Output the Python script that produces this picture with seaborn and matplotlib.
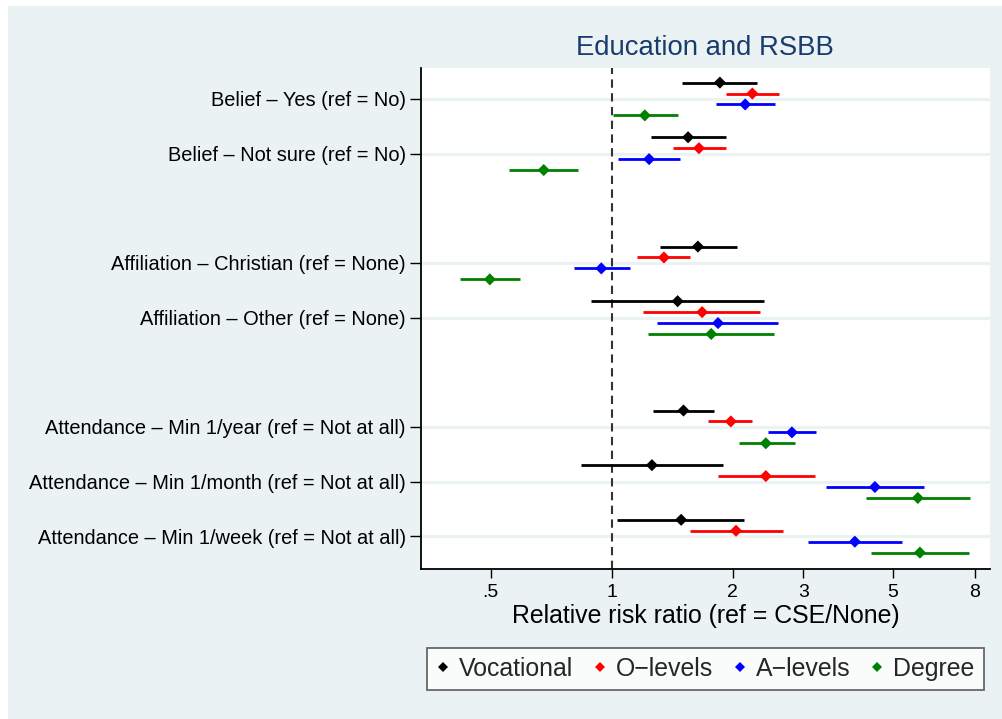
import numpy as np
import pandas as pd
import seaborn as sns
import matplotlib
matplotlib.use("Agg")
import matplotlib.pyplot as plt
from matplotlib.patches import Rectangle
from matplotlib.lines import Line2D

# Terms (rows of the coefficient plot)
terms = [
    "Belief \u2013 Yes (ref = No)",
    "Belief \u2013 Not sure (ref = No)",
    "Affiliation \u2013 Christian (ref = None)",
    "Affiliation \u2013 Other (ref = None)",
    "Attendance \u2013 Min 1/year (ref = Not at all)",
    "Attendance \u2013 Min 1/month (ref = Not at all)",
    "Attendance \u2013 Min 1/week (ref = Not at all)",
]
# Row slots, with a blank slot between variable groups
term_pos = [0, 1, 3, 4, 6, 7, 8]

groups = ["Vocational", "O\u2212levels", "A\u2212levels", "Degree"]
group_colors = ["#000000", "#ff0000", "#0000ff", "#008000"]
group_offsets = [-0.3, -0.1, 0.1, 0.3]

# Relative risk ratios and 95% CIs, one list per education level (order = terms)
voc_rr = [1.86, 1.55, 1.64, 1.46, 1.51, 1.26, 1.49]
voc_lo = [1.50, 1.25, 1.32, 0.89, 1.27, 0.84, 1.03]
voc_hi = [2.30, 1.93, 2.05, 2.39, 1.80, 1.89, 2.14]

olev_rr = [2.24, 1.65, 1.35, 1.68, 1.98, 2.42, 2.04]
olev_lo = [1.93, 1.42, 1.16, 1.20, 1.74, 1.84, 1.57]
olev_hi = [2.61, 1.93, 1.57, 2.34, 2.24, 3.21, 2.67]

alev_rr = [2.15, 1.24, 0.943, 1.84, 2.81, 4.52, 4.03]
alev_lo = [1.82, 1.04, 0.806, 1.30, 2.45, 3.42, 3.08]
alev_hi = [2.55, 1.48, 1.11, 2.60, 3.23, 5.99, 5.28]

deg_rr = [1.21, 0.678, 0.498, 1.77, 2.42, 5.78, 5.85]
deg_lo = [1.01, 0.556, 0.419, 1.23, 2.07, 4.29, 4.43]
deg_hi = [1.46, 0.827, 0.593, 2.54, 2.86, 7.79, 7.77]

x_ticks = [0.5, 1, 2, 3, 5, 8]
x_ticklabels = [".5", "1", "2", "3", "5", "8"]

rr_sets = [voc_rr, olev_rr, alev_rr, deg_rr]
lo_sets = [voc_lo, olev_lo, alev_lo, deg_lo]
hi_sets = [voc_hi, olev_hi, alev_hi, deg_hi]

rows = []
for g, off, rr, lo, hi in zip(groups, group_offsets, rr_sets, lo_sets, hi_sets):
    for t, p, r, l, h in zip(terms, term_pos, rr, lo, hi):
        rows.append({"term": t, "level": g, "rr": r, "lo": l, "hi": h, "y": p + off})
df = pd.DataFrame(rows)

sns.set_theme(style="white")
plt.rcParams["font.family"] = ["Liberation Sans", "DejaVu Sans"]

BG = "#eaf2f3"
fig = plt.figure(figsize=(10.02, 7.19), dpi=100, facecolor="white")
fig.patches.append(Rectangle((8 / 1002, 0), 1, 1 - 6 / 719, transform=fig.transFigure,
                             facecolor=BG, edgecolor="none", zorder=-10))

ax = fig.add_axes([421 / 1002, 1 - 569 / 719, (990 - 421) / 1002, (569 - 68) / 719])
ax.set_facecolor("white")

# horizontal grid at each term
for p in term_pos:
    ax.axhline(p, color=BG, lw=2.2, zorder=0)

# reference line at RR = 1
ax.axvline(1, color="#333333", lw=1.5, ls=(0, (4, 2.6)), zorder=1)

palette = dict(zip(groups, group_colors))
for g in groups:
    sub = df[df["level"] == g]
    ax.hlines(sub["y"], sub["lo"], sub["hi"], color=palette[g], lw=2.0, zorder=2)

sns.scatterplot(data=df, x="rr", y="y", hue="level", hue_order=groups, palette=palette,
                marker="D", s=38, edgecolor="none", legend=False, zorder=3, ax=ax)

ax.set_xscale("log")
ax.set_xlim(0.3357, 8.74)
ax.set_ylim(8.6, -0.567)
ax.set_xticks(x_ticks)
ax.set_xticklabels(x_ticklabels)
ax.xaxis.set_minor_locator(matplotlib.ticker.NullLocator())
ax.set_yticks(term_pos)
ax.set_yticklabels(terms)

for s in ["top", "right"]:
    ax.spines[s].set_visible(False)
for s in ["left", "bottom"]:
    ax.spines[s].set_visible(True)
    ax.spines[s].set_color("black")
    ax.spines[s].set_linewidth(1.3)

ax.tick_params(axis="y", which="major", left=True, length=8, width=1.0, pad=3,
               labelsize=14.4, colors="black")
ax.tick_params(axis="x", which="major", bottom=True, length=6.5, width=1.0, pad=4.2,
               labelsize=14.0, colors="black")

ax.set_xlabel("Relative risk ratio (ref = CSE/None)", fontsize=17.9, color="black", labelpad=2.5)
ax.set_ylabel("")

fig.text(705 / 1002, 1 - 55 / 719, "Education and RSBB", ha="center", va="baseline",
         fontsize=19.8, color="#1a3c6c")

handles = [Line2D([], [], ls="none", marker="D", markersize=5, color=c, markeredgewidth=0)
           for c in group_colors]
leg = fig.legend(handles, groups, loc="center", bbox_to_anchor=(705.5 / 1002, 1 - 669 / 719),
                 ncol=4, fontsize=17.9, frameon=True, fancybox=False, handlelength=0.5,
                 handletextpad=0.38, columnspacing=0.84, borderpad=0.38)
leg.get_frame().set_edgecolor("#444444")
leg.get_frame().set_linewidth(1.3)
leg.get_frame().set_facecolor("white")

fig.savefig("out.png", dpi=100, facecolor=fig.get_facecolor())
